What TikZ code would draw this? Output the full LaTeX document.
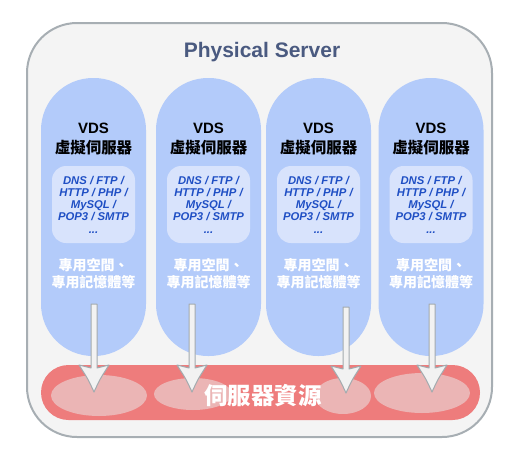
\documentclass[tikz,border=0pt]{standalone}
\usepackage{fontspec}
\setmainfont{Liberation Sans}
\newfontfamily\cjk{Noto Sans CJK TC}
\usetikzlibrary{calc,positioning}

\definecolor{serverbg}{HTML}{F4F4F4}
\definecolor{serverline}{HTML}{A7AEB3}
\definecolor{titleblue}{HTML}{4A5A80}
\definecolor{pillblue}{HTML}{B3CBFA}
\definecolor{boxblue}{HTML}{D8E3FC}
\definecolor{svcblue}{HTML}{1F4FC4}
\definecolor{resred}{HTML}{EE7C7C}
\definecolor{respink}{HTML}{EBB5B5}
\definecolor{arrowgray}{HTML}{A3AAAE}
\definecolor{arrowfill}{HTML}{F2F2F2}

\tikzset{
    server/.style={draw=serverline, line width=2pt, fill=serverbg, rounded corners=50pt,
        minimum width=465pt, minimum height=414pt},
    vdspill/.style={fill=pillblue, rounded corners=52pt, minimum width=105pt, minimum height=278pt},
    svcbox/.style={fill=boxblue, rounded corners=14pt, minimum width=83pt, minimum height=77pt,
        inner sep=0pt, align=center, text=svcblue, font=\bfseries\itshape\fontsize{11.3}{12}\selectfont},
    vdslabel/.style={anchor=base, inner sep=0pt, font=\bfseries\fontsize{15}{18}\selectfont},
    spacelabel/.style={anchor=base, inner sep=0pt, text=white, font=\cjk\bfseries\fontsize{14}{17}\selectfont},
    resbar/.style={fill=resred, rounded corners=27.5pt, minimum width=439pt, minimum height=55pt},
    fatarrow/.style={fill=arrowfill, draw=arrowgray, line width=1pt, line join=round}
}

\begin{document}
\begin{tikzpicture}[x=1pt, y=-1pt]
    \useasboundingbox (0,0) rectangle (520,472);
    \node[server] (srv) at (259.5,230) {};
    \node[anchor=base, text=titleblue, font=\bfseries\fontsize{21}{25}\selectfont] (title) at (262,57) {Physical Server};

    \foreach \i/\x in {1/93.5, 2/208.5, 3/318.5, 4/431} {
        \node[vdspill] (vds\i) at (\x,217) {};
        \node[vdslabel] (name\i) at (\x,133) {VDS};
        \node[vdslabel, font=\cjk\bfseries\fontsize{15.5}{18}\selectfont] (cname\i) at (\x,153) {虛擬伺服器};
        \node[svcbox] (svc\i) at (\x,204.5) {DNS / FTP /\\HTTP / PHP /\\MySQL /\\POP3 / SMTP\\[1pt]...};
        \node[spacelabel] (spa\i) at (\x,270.5) {專用空間、};
        \node[spacelabel] (mem\i) at (\x,287.5) {專用記憶體等};
    }

    \node[resbar] (res) at (260.5,392.5) {};
    \foreach \i/\ex/\ey/\erx/\ery in {1/99/395.5/48/20.5, 2/193/394/39/16, 3/343/396/28/18, 4/422/393/48/20} {
        \fill[respink] (\ex,\ey) ellipse [x radius=\erx, y radius=\ery];
        \coordinate (lobe\i) at (\ex,\ey);
    }
    \node[anchor=base, text=white, font=\cjk\bfseries\fontsize{23.4}{28}\selectfont] (reslabel) at (263,404) {伺服器資源};

    \foreach \i/\ax/\atop/\atip in {1/94/304/392, 2/192/304/392, 3/346/307/393, 4/432/304/392} {
        \coordinate (top\i) at (\ax,\atop);
        \coordinate (tip\i) at (\ax,\atip);
        \draw[fatarrow] ($(top\i)+(-3,0)$) -- ($(tip\i)+(-3,-24)$) -- ($(tip\i)+(-15,-27)$)
            .. controls ($(tip\i)+(-6,-13)$) .. (tip\i)
            .. controls ($(tip\i)+(6,-13)$) .. ($(tip\i)+(15,-27)$)
            -- ($(tip\i)+(3,-24)$) -- ($(top\i)+(3,0)$) -- cycle;
    }
\end{tikzpicture}
\end{document}
